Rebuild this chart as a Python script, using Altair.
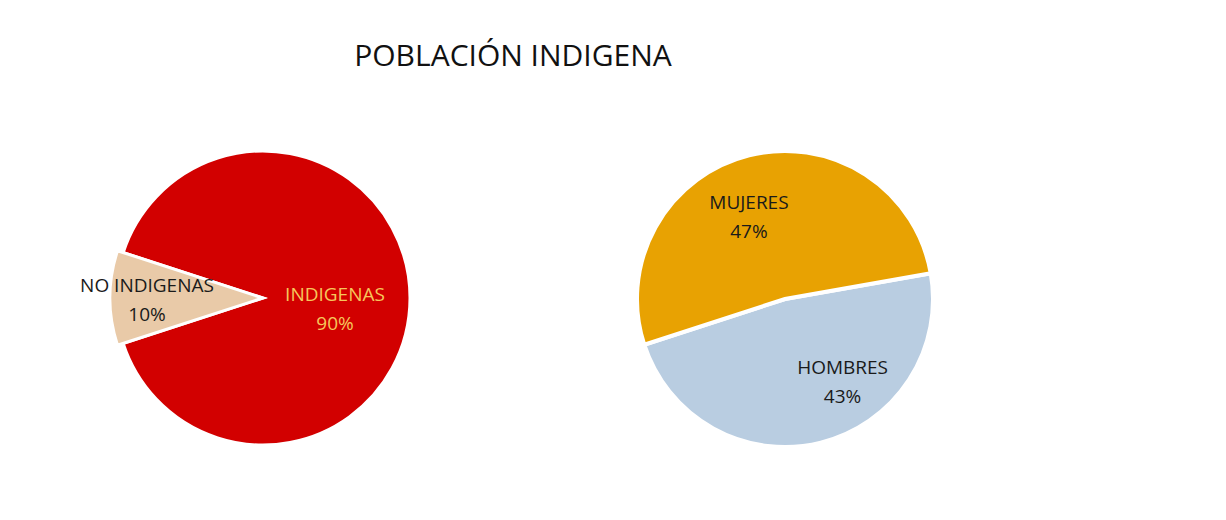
import math
import altair as alt
import pandas as pd

TITLE = "POBLACIÓN INDIGENA"

ETNIA_CATS = ["NO INDIGENAS", "INDIGENAS"]
ETNIA_VALS = [10, 90]

SEXO_CATS = ["HOMBRES", "MUJERES"]
SEXO_VALS = [43, 47]

FONT = "Open Sans"


def pie(cats, vals, colors, start_deg, cx, cy, r, labels, explode=None, stroke_w=3):
    df = pd.DataFrame({"cat": cats, "value": vals, "order": list(range(len(cats)))})
    total = sum(vals)
    a0 = math.radians(start_deg)
    tscale = alt.Scale(domain=[0, total], range=[a0, a0 + 2 * math.pi])
    cscale = alt.Scale(domain=cats, range=colors)
    base = (
        alt.Chart(df)
        .transform_window(cum="sum(value)", sort=[alt.SortField("order")], frame=[None, 0])
        .transform_calculate(start="datum.cum - datum.value", mid="datum.cum - datum.value / 2")
    )
    enc = dict(
        theta=alt.Theta("start:Q", scale=tscale),
        theta2="cum:Q",
        color=alt.Color("cat:N", scale=cscale, legend=None),
        x=alt.value(cx),
        y=alt.value(cy),
    )
    layers = [base.mark_arc(outerRadius=r, stroke="white", strokeWidth=stroke_w).encode(**enc)]
    if explode:
        cat, rr = explode
        layers.append(
            base.transform_filter(alt.datum.cat == cat)
            .mark_arc(outerRadius=rr, stroke="white", strokeWidth=stroke_w)
            .encode(**enc)
        )
    for cat, rad, dx, dy, col in labels:
        layers.append(
            base.transform_filter(alt.datum.cat == cat)
            .transform_calculate(label="datum.cat + '\\n' + datum.value + '%'")
            .mark_text(
                radius=rad, dx=dx, dy=dy, color=col, font=FONT, fontSize=19,
                lineBreak="\n", lineHeight=29, align="center", baseline="middle",
            )
            .encode(
                theta=alt.Theta("mid:Q", scale=tscale),
                text="label:N",
                x=alt.value(cx),
                y=alt.value(cy),
            )
        )
    return alt.layer(*layers)


pie1 = pie(
    ETNIA_CATS, ETNIA_VALS, ["#e9caa8", "#d20000"], 252, 255, 290, 147,
    labels=[
        ("NO INDIGENAS", 116, 0, -12, "#1a1a1a"),
        ("INDIGENAS", 72, 0, -3, "#f6c65b"),
    ],
    explode=("NO INDIGENAS", 153),
)

pie2 = pie(
    SEXO_CATS, SEXO_VALS, ["#b9cde1", "#e8a202"], 80, 777, 291, 148,
    labels=[
        ("MUJERES", 87, -15, -12, "#1a1a1a"),
        ("HOMBRES", 85, 37, -13, "#1a1a1a"),
    ],
    stroke_w=4,
)

title = (
    alt.Chart(pd.DataFrame({"t": [TITLE]}))
    .mark_text(font=FONT, fontSize=30, color="#111111", align="center", baseline="middle")
    .encode(text="t:N", x=alt.value(505), y=alt.value(49))
)

chart = (
    alt.layer(title, pie1, pie2)
    .resolve_scale(theta="independent", color="independent")
    .properties(width=1210, height=504, padding=0, autosize="none", background="white")
    .configure_view(stroke=None)
)

chart.save("out.html", embed_options={"renderer": "svg", "actions": False})
